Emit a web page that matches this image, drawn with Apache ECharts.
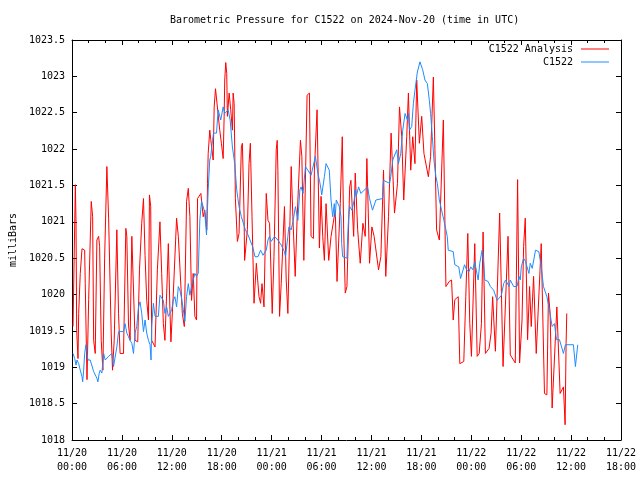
<!DOCTYPE html>
<html><head><meta charset="utf-8">
<script src="https://cdn.jsdelivr.net/npm/echarts@6/dist/echarts.min.js"></script>
<style>html,body{margin:0;padding:0;background:#fff}#c{width:640px;height:480px}</style>
</head><body><div id="c"></div>
<script>
const titleText = 'Barometric Pressure for C1522 on 2024-Nov-20 (time in UTC)';
const yAxisName = 'milliBars';
const seriesNames = ['C1522 Analysis', 'C1522'];
// x axis: hours since 2024-11-20 00:00 UTC
const xTickLabels = ['11/20\n00:00','11/20\n06:00','11/20\n12:00','11/20\n18:00','11/21\n00:00','11/21\n06:00','11/21\n12:00','11/21\n18:00','11/22\n00:00','11/22\n06:00','11/22\n12:00','11/22\n18:00'];

const redHours = [0.12,0.32,0.40,0.48,0.56,0.72,0.80,0.99,1.20,1.52,1.59,1.80,2.00,2.31,2.48,2.60,2.79,2.99,3.20,3.32,3.51,3.71,3.92,4.19,4.40,4.71,4.87,5.07,5.39,5.59,5.78,6.19,6.47,6.59,6.79,6.98,7.19,7.39,7.58,7.90,8.11,8.38,8.59,8.78,8.98,9.19,9.31,9.46,9.58,9.98,10.26,10.57,10.78,10.98,11.17,11.38,11.58,11.77,11.89,12.18,12.37,12.57,12.78,12.97,13.26,13.50,13.77,13.98,14.17,14.37,14.57,14.77,14.97,15.09,15.25,15.49,15.77,15.96,16.20,16.29,16.37,16.56,16.68,16.97,17.09,17.25,17.49,17.76,17.96,18.17,18.29,18.36,18.48,18.60,18.68,18.89,19.08,19.28,19.37,19.49,19.64,19.88,20.08,20.36,20.48,20.68,20.75,21.08,21.28,21.44,21.64,21.88,22.16,22.48,22.67,22.84,23.08,23.35,23.56,23.75,24.07,24.28,24.55,24.67,24.75,24.95,25.15,25.54,25.75,25.95,26.35,26.55,26.83,27.07,27.46,27.63,27.87,28.02,28.26,28.54,28.74,29.02,29.14,29.46,29.74,29.94,30.14,30.34,30.54,30.86,31.14,31.34,31.65,31.86,32.01,32.25,32.49,32.66,32.85,33.05,33.38,33.53,33.86,34.05,34.34,34.65,34.97,35.25,35.45,35.77,36.05,36.32,36.85,37.13,37.45,37.72,38.05,38.36,38.77,39.13,39.37,39.64,39.88,40.24,40.44,40.72,40.96,41.23,41.44,41.76,42.04,42.31,42.84,43.11,43.44,43.63,43.83,44.16,44.64,44.95,45.35,45.51,45.63,45.83,46.02,46.43,46.62,47.10,47.34,47.58,47.82,48.02,48.42,48.71,48.95,49.22,49.42,49.70,50.14,50.38,50.57,50.90,51.10,51.41,51.82,52.01,52.42,52.69,53.29,53.57,53.81,54.10,54.29,54.49,54.77,55.01,55.21,55.49,55.81,56.01,56.41,56.80,57.09,57.28,57.48,57.72,57.88,58.29,58.68,59.08,59.28,59.40,59.48];
const redValues = [1019.56,1019.56,1021.51,1021.00,1019.51,1019.12,1019.74,1020.29,1020.63,1020.61,1020.15,1018.83,1019.93,1021.28,1021.07,1019.37,1019.19,1020.75,1020.80,1020.66,1019.37,1018.96,1020.50,1021.76,1021.05,1019.47,1018.96,1019.37,1020.89,1019.74,1019.19,1019.19,1020.91,1020.80,1019.58,1019.37,1020.80,1020.80,1019.37,1019.35,1020.34,1020.98,1021.32,1020.54,1019.92,1019.65,1021.37,1021.21,1019.37,1019.28,1020.34,1021.00,1020.29,1019.60,1019.37,1020.02,1020.70,1019.79,1019.35,1020.02,1020.02,1021.05,1020.80,1020.38,1019.74,1019.56,1021.28,1021.46,1021.07,1019.92,1020.29,1019.70,1019.65,1021.32,1021.30,1021.39,1021.07,1021.16,1020.89,1021.53,1021.94,1022.26,1022.13,1021.85,1022.58,1022.83,1022.83,1022.26,1022.08,1021.87,1022.45,1022.95,1023.19,1023.04,1022.45,1022.77,1022.54,1022.26,1022.77,1022.63,1021.32,1020.73,1020.84,1022.03,1022.08,1021.12,1020.47,1020.89,1021.80,1022.08,1021.07,1019.88,1020.43,1019.97,1019.88,1020.15,1019.83,1021.39,1021.02,1020.98,1019.74,1020.52,1021.99,1022.12,1021.71,1019.70,1020.15,1021.21,1020.20,1019.74,1021.76,1021.07,1020.25,1021.07,1022.12,1021.90,1020.47,1020.47,1022.74,1022.77,1020.80,1020.77,1021.71,1022.54,1020.64,1021.35,1020.80,1020.47,1021.25,1020.47,1020.80,1020.80,1021.16,1020.18,1020.20,1021.25,1022.17,1020.89,1020.02,1020.11,1021.48,1021.57,1020.80,1021.67,1020.89,1020.43,1020.98,1020.80,1021.87,1020.43,1020.93,1020.80,1020.34,1020.52,1021.71,1020.25,1021.07,1022.22,1021.12,1021.53,1022.58,1022.17,1021.30,1022.17,1022.77,1021.71,1022.17,1021.80,1022.95,1022.08,1022.45,1021.94,1021.62,1021.90,1022.99,1021.99,1020.89,1020.75,1022.40,1020.11,1020.18,1020.18,1020.20,1019.65,1019.93,1019.97,1019.05,1019.08,1019.97,1020.84,1019.60,1019.15,1020.70,1019.15,1019.19,1019.60,1020.86,1019.19,1019.26,1019.47,1019.97,1019.22,1019.24,1021.12,1019.01,1019.01,1020.80,1019.17,1019.06,1021.58,1019.06,1019.65,1020.66,1021.05,1019.38,1020.11,1019.56,1020.25,1019.19,1019.19,1020.70,1018.64,1018.62,1020.02,1019.74,1018.44,1018.44,1019.83,1018.64,1018.73,1018.21,1019.33,1019.74];

const blueHours = [0.12,0.32,0.48,0.60,0.80,0.99,1.20,1.28,1.40,1.52,1.68,1.80,1.92,2.19,2.40,2.60,2.79,2.99,3.11,3.27,3.39,3.59,3.80,3.99,4.19,4.40,4.79,4.99,5.19,5.39,5.59,6.19,6.38,6.59,6.79,6.98,7.19,7.39,7.58,7.78,7.99,8.18,8.38,8.59,8.78,8.98,9.19,9.38,9.50,9.58,9.78,9.98,10.38,10.57,10.78,10.98,11.17,11.38,11.58,11.98,12.18,12.37,12.57,12.78,12.97,13.17,13.38,13.57,13.77,13.98,14.17,14.37,14.57,14.77,14.97,15.17,15.37,15.57,15.77,15.96,16.17,16.37,16.56,16.68,16.89,17.01,17.37,17.57,17.88,18.17,18.36,18.60,18.77,19.01,19.28,19.56,19.80,20.08,20.36,20.60,20.84,21.16,21.40,21.71,22.00,22.36,22.67,22.96,23.35,23.56,23.75,23.95,24.35,24.75,25.15,25.54,25.66,25.95,26.07,26.35,26.59,26.86,27.15,27.39,27.54,27.78,28.06,28.35,28.74,28.98,29.26,29.55,29.78,29.94,30.02,30.14,30.34,30.54,30.74,30.93,31.14,31.34,31.53,31.65,31.77,32.13,32.34,32.42,32.54,33.05,33.14,33.26,33.38,33.65,33.93,34.05,34.17,34.45,34.73,35.53,35.77,36.13,36.32,36.53,37.33,37.45,38.17,38.32,38.56,39.04,39.24,39.52,39.76,40.04,40.32,40.44,40.56,40.84,41.04,41.23,41.52,41.83,42.16,42.43,42.72,42.96,43.11,43.32,43.51,43.75,43.92,44.16,44.43,44.71,44.95,45.11,45.23,45.83,46.02,46.50,46.71,46.91,47.19,47.43,47.70,47.94,48.18,48.42,48.71,48.83,49.02,49.30,49.42,49.62,50.02,50.30,50.69,51.10,51.34,51.62,51.89,52.13,52.54,52.69,53.09,53.50,53.74,53.89,54.01,54.29,54.53,54.93,55.09,55.33,55.72,56.13,56.41,56.68,57.09,57.33,57.72,58.00,58.24,58.60,59.08,59.32,60.28,60.52,60.80];
const blueValues = [1019.19,1019.12,1019.03,1019.10,1019.05,1018.96,1018.87,1018.80,1018.96,1019.19,1019.31,1019.19,1019.10,1019.10,1019.10,1018.94,1018.92,1018.85,1018.80,1018.92,1018.96,1018.92,1019.19,1019.10,1019.10,1019.15,1019.19,1019.01,1019.01,1019.28,1019.49,1019.49,1019.60,1019.47,1019.42,1019.37,1019.33,1019.19,1019.47,1019.56,1019.83,1019.90,1019.74,1019.49,1019.65,1019.47,1019.37,1019.31,1019.10,1019.56,1019.88,1019.70,1019.70,1019.99,1019.97,1019.92,1019.74,1019.83,1019.70,1019.79,1019.92,1019.97,1019.83,1020.11,1020.06,1019.95,1019.79,1019.63,1019.97,1020.15,1019.99,1020.11,1020.20,1020.29,1020.25,1020.29,1021.03,1021.28,1021.21,1021.12,1020.82,1021.44,1021.85,1021.90,1022.12,1022.22,1022.22,1022.54,1022.40,1022.58,1022.49,1022.49,1022.54,1022.40,1022.03,1021.80,1021.44,1021.21,1021.07,1021.07,1020.89,1020.82,1020.80,1020.66,1020.52,1020.52,1020.61,1020.54,1020.61,1020.75,1020.80,1020.73,1020.80,1020.75,1020.68,1020.59,1020.52,1020.80,1020.93,1020.89,1021.02,1021.21,1021.02,1021.44,1021.48,1021.39,1021.76,1021.71,1021.64,1021.62,1021.90,1021.67,1021.55,1021.44,1021.37,1021.35,1021.62,1021.80,1021.80,1021.71,1021.30,1021.07,1021.25,1021.07,1021.30,1021.21,1021.07,1020.70,1020.52,1020.50,1020.80,1021.07,1021.21,1021.16,1021.30,1021.44,1021.35,1021.48,1021.39,1021.48,1021.32,1021.16,1021.16,1021.30,1021.32,1021.57,1021.53,1021.62,1021.85,1021.99,1021.80,1021.94,1022.26,1022.49,1022.40,1022.49,1022.26,1022.31,1022.63,1022.81,1023.06,1023.20,1023.09,1022.95,1022.90,1022.67,1022.49,1022.17,1021.85,1021.62,1021.53,1021.30,1021.16,1021.02,1020.89,1020.80,1020.61,1020.59,1020.41,1020.38,1020.22,1020.20,1020.41,1020.34,1020.31,1020.38,1020.34,1020.45,1020.27,1020.20,1020.43,1020.61,1020.57,1020.20,1020.18,1020.11,1020.06,1019.92,1019.95,1019.99,1020.15,1020.20,1020.11,1020.20,1020.11,1020.11,1020.25,1020.20,1020.38,1020.50,1020.45,1020.29,1020.43,1020.36,1020.61,1020.59,1020.38,1020.11,1019.97,1019.83,1019.56,1019.60,1019.38,1019.38,1019.19,1019.31,1019.31,1019.01,1019.31];

const FONT = '"DejaVu Sans Mono", "Liberation Mono", monospace';
const zip = (xs, ys) => xs.map((x, i) => [x, ys[i]]);
const fmtY = v => String(+v.toFixed(1));
const fmtX = v => xTickLabels[Math.round(v / 6)] || '';

const axisCommonX = {
  type: 'value', min: 0, max: 66, interval: 6,
  axisLine: { show: true, onZero: false, lineStyle: { color: '#000', width: 1 } },
  axisTick: { show: true, inside: true, length: 5, lineStyle: { color: '#000', width: 1 } },
  minorTick: { show: true, splitNumber: 3, length: 3, lineStyle: { color: '#000', width: 1 } },
  splitLine: { show: false }, minorSplitLine: { show: false }
};
const axisCommonY = {
  type: 'value', min: 1018, max: 1023.5, interval: 0.5,
  axisLine: { show: true, onZero: false, lineStyle: { color: '#000', width: 1 } },
  axisTick: { show: true, inside: true, length: 5, lineStyle: { color: '#000', width: 1 } },
  splitLine: { show: false }
};

const chart = echarts.init(document.getElementById('c'), null, { renderer: 'canvas' });
chart.setOption({
  animation: false,
  backgroundColor: '#fff',
  textStyle: { fontFamily: FONT, color: '#000' },
  title: {
    text: titleText, left: 165, top: 10,
    textStyle: { fontFamily: FONT, fontSize: 10, fontWeight: 'normal', color: '#000' }
  },
  legend: {
    orient: 'vertical', align: 'right', right: 31, top: 43, padding: 0,
    icon: 'rect', itemWidth: 28, itemHeight: 1, itemGap: 1,
    textStyle: { fontFamily: FONT, fontSize: 10, color: '#000', lineHeight: 12, padding: [0, 3, 0, 0] },
    data: seriesNames
  },
  grid: { left: 70, right: 19, top: 40, bottom: 40, containLabel: false },
  xAxis: [
    Object.assign({}, axisCommonX, { position: 'bottom',
      axisLabel: { formatter: fmtX, color: '#000', fontFamily: FONT, fontSize: 10, lineHeight: 14, margin: 6 } }),
    Object.assign({}, axisCommonX, { position: 'top', axisLabel: { show: false } })
  ],
  yAxis: [
    Object.assign({}, axisCommonY, { position: 'left',
      name: yAxisName, nameLocation: 'middle', nameRotate: 90, nameGap: 52,
      nameTextStyle: { fontFamily: FONT, fontSize: 10, color: '#000' },
      axisLabel: { formatter: fmtY, color: '#000', fontFamily: FONT, fontSize: 10, margin: 7 } }),
    Object.assign({}, axisCommonY, { position: 'right', axisLabel: { show: false } })
  ],
  series: [
    { name: seriesNames[0], type: 'line', xAxisIndex: 0, yAxisIndex: 0, symbol: 'none', showSymbol: false,
      color: '#ff0000', lineStyle: { color: '#ff0000', width: 1 }, data: zip(redHours, redValues), silent: true },
    { name: seriesNames[1], type: 'line', xAxisIndex: 0, yAxisIndex: 0, symbol: 'none', showSymbol: false,
      color: '#1e8cff', lineStyle: { color: '#1e8cff', width: 1 }, data: zip(blueHours, blueValues), silent: true }
  ]
});
</script>
</body></html>
